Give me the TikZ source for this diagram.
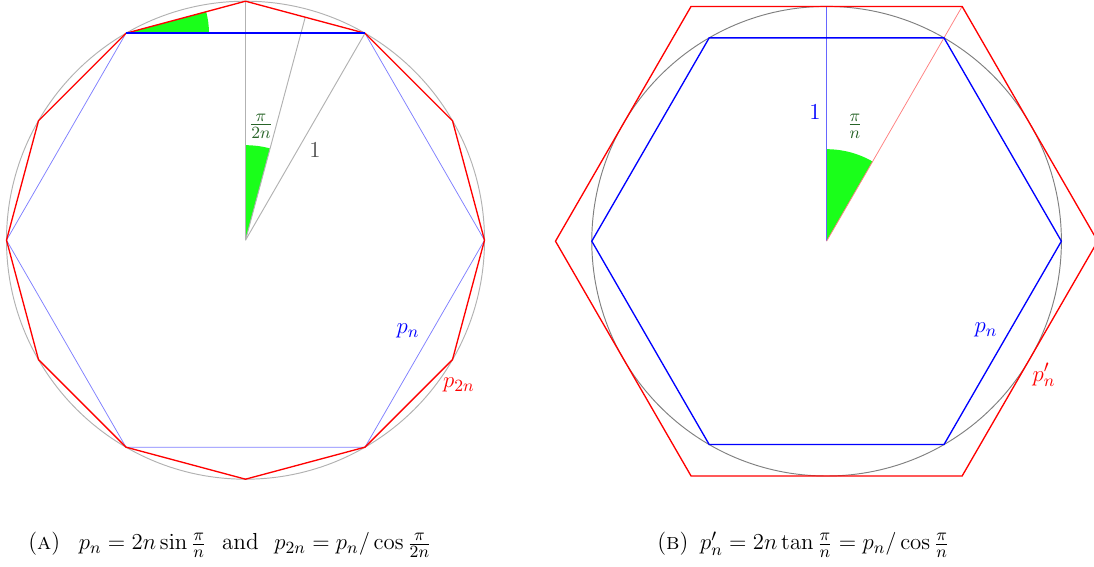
\documentclass[tikz,border=0pt]{standalone}
\usetikzlibrary{calc}
\definecolor{wedgegreen}{RGB}{26,255,26}
\definecolor{labgreen}{RGB}{40,100,40}
\definecolor{pureblue}{RGB}{0,0,255}
\begin{document}
\begin{tikzpicture}[x=0.526pt,y=0.526pt,
  redline/.style={red,line width=0.7pt},
  blueline/.style={pureblue,line width=0.7pt},
  topblue/.style={pureblue,line width=0.9pt},
  thinblue/.style={blue!50,line width=0.4pt},
  lightgrayline/.style={gray!60,line width=0.5pt},
  wedge/.style={fill=wedgegreen},
  lab/.style={font=\fontsize{13}{15}\selectfont,inner sep=1pt},
  caption/.style={font=\fontsize{12.2}{15}\selectfont,inner sep=0pt,anchor=west}]
\useasboundingbox (0,0) rectangle (1094,567);
% ---------- left figure ----------
\coordinate (C1) at (245.5,326.8);
\def\ra{239}
\foreach \i in {0,...,11}{\coordinate (D\i) at ([shift={(C1)}]\i*30:\ra);}
\coordinate (M1) at ([shift={(C1)}]75:{\ra*cos(15)});
\fill[wedge] (C1) -- ([shift={(C1)}]75:95) arc[start angle=75,end angle=90,radius=95] -- cycle;
\fill[wedge] (D4) -- ([shift={(D4)}]0:83) arc[start angle=0,end angle=15,radius=83] -- cycle;
\draw[lightgrayline] (C1) circle[radius=\ra];
\draw[lightgrayline] (C1) -- (D3);
\draw[lightgrayline] (C1) -- (M1);
\draw[lightgrayline] (C1) -- (D2);
\draw[thinblue] (D0) -- (D2) (D4) -- (D6) -- (D8) -- (D10) -- (D0);
\draw[redline] (D0) \foreach \i in {1,...,11}{ -- (D\i)} -- cycle;
\draw[topblue] (D2) -- (D4);
\node[lab,text=labgreen] (angA) at (261,441) {$\frac{\pi}{2n}$};
\node[lab,text=black!70] (oneA) at (315,417) {$1$};
\node[lab,text=blue] (pnA) at (408,236) {$p_n$};
\node[lab,text=red] (p2nA) at (459,182) {$p_{2n}$};
\node[caption] (capA) at (28,22) {(\textsc{a})\hspace{0.8em}$p_n = 2n\sin\frac{\pi}{n}$\hspace{0.35em} and\hspace{0.35em} $p_{2n} = p_n/\cos\frac{\pi}{2n}$};
% ---------- right figure ----------
\coordinate (C2) at (826.6,325.8);
\def\rb{234.8}
\def\Rb{271.1}
\foreach \i in {0,...,5}{
  \coordinate (H\i) at ([shift={(C2)}]\i*60:\rb);
  \coordinate (R\i) at ([shift={(C2)}]\i*60:\Rb);}
\coordinate (T2) at ([shift={(C2)}]90:\rb);
\fill[wedge] (C2) -- ([shift={(C2)}]60:92) arc[start angle=60,end angle=90,radius=92] -- cycle;
\draw[gray,line width=0.5pt] (C2) circle[radius=\rb];
\draw[blue!60,line width=0.4pt] (C2) -- (T2);
\draw[red!50,line width=0.4pt] (C2) -- (R1);
\draw[blueline] (H0) -- (H1) -- (H2) -- (H3) -- (H4) -- (H5) -- cycle;
\draw[redline] (R0) -- (R1) -- (R2) -- (R3) -- (R4) -- (R5) -- cycle;
\node[lab,text=blue] (oneB) at (815,455) {$1$};
\node[lab,text=labgreen] (angB) at (855,441) {$\frac{\pi}{n}$};
\node[lab,text=blue] (pnB) at (986,237) {$p_n$};
\node[lab,text=red] (ppB) at (1044,192) {$p'_n$};
\node[caption] (capB) at (657,22) {(\textsc{b})\hspace{0.5em}$p'_n = 2n\tan\frac{\pi}{n} = p_n/\cos\frac{\pi}{n}$};
\end{tikzpicture}
\end{document}
